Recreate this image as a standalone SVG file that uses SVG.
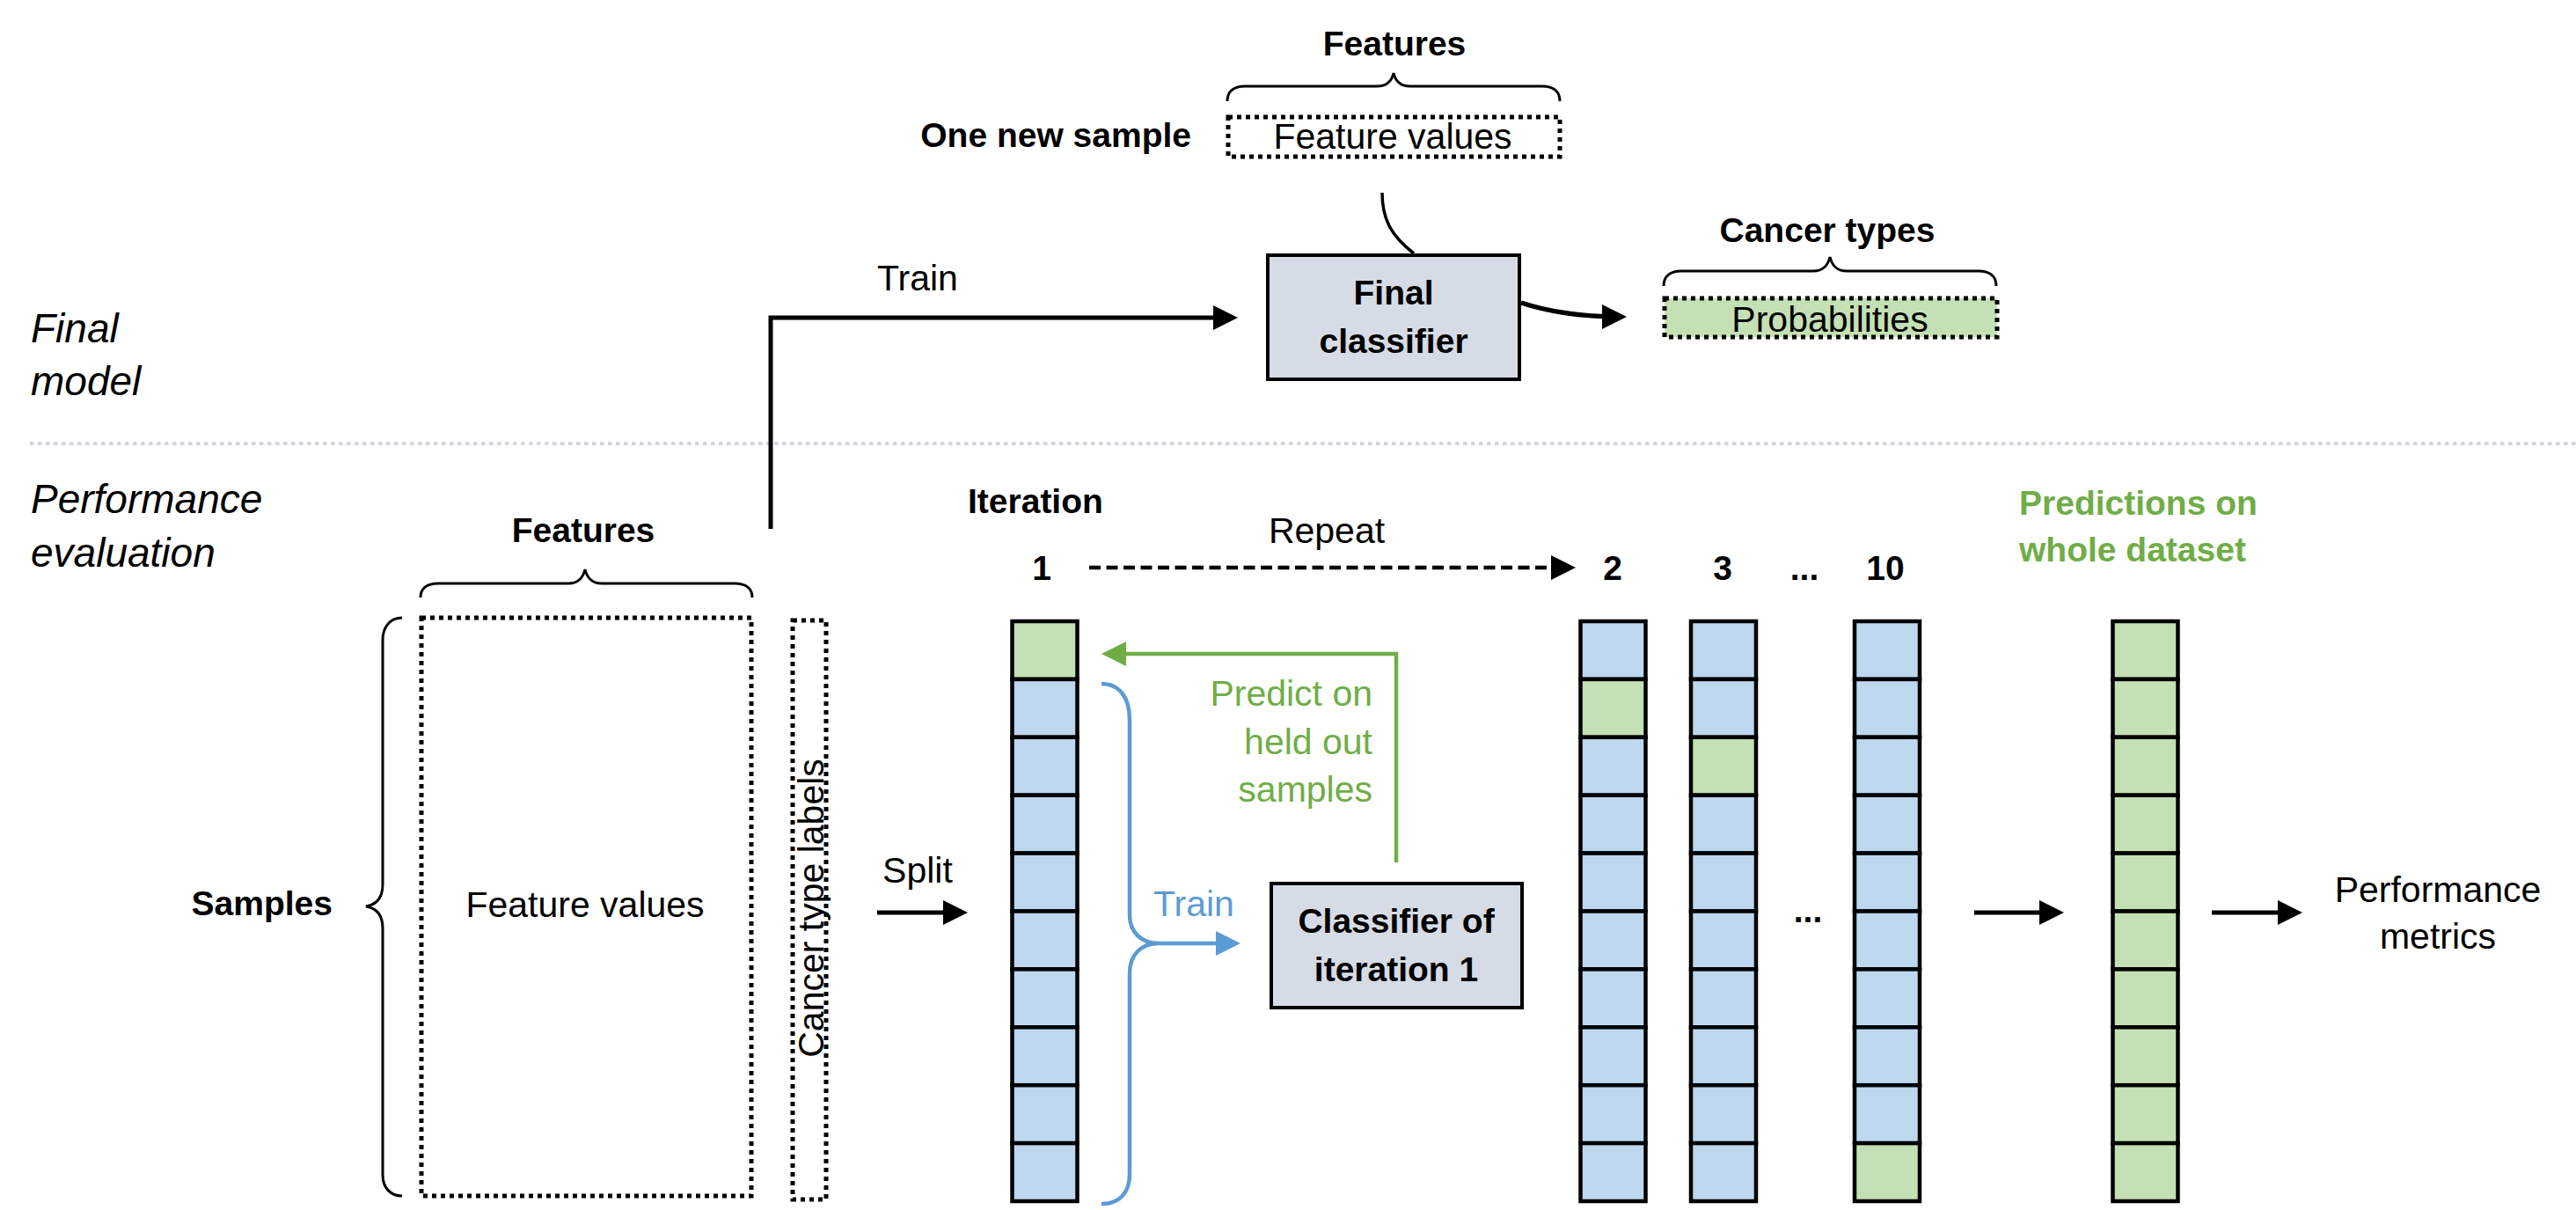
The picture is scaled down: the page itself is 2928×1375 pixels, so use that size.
<svg xmlns="http://www.w3.org/2000/svg" width="2928" height="1375" viewBox="0 0 2928 1375">
<style>
text{font-family:"Liberation Sans",Arial,sans-serif;fill:#000}
.b{font-weight:bold;font-size:39px}
.r{font-size:41px}
.i{font-style:italic;font-size:46px}
.g{fill:#70AD47}
.bl{fill:#5B9BD5}
.m{text-anchor:middle}
.e{text-anchor:end}
.dot{fill:none;stroke:#000;stroke-width:5;stroke-dasharray:5 5}
.dotg{fill:#C5E0B4;stroke:#000;stroke-width:5;stroke-dasharray:5 5}
.brace{fill:none;stroke:#000;stroke-width:3}
.cb{fill:#BDD7EE;stroke:#000;stroke-width:4.5}
.cg{fill:#C5E0B4;stroke:#000;stroke-width:4.5}
.box{fill:#D6DCE5;stroke:#000;stroke-width:4}
.ln{fill:none;stroke:#000;stroke-width:5}
</style>
<defs>
<marker id="ah" markerUnits="userSpaceOnUse" markerWidth="28" markerHeight="28" refX="22" refY="14" orient="auto"><path d="M0,0 L28,14 L0,28 z" fill="#000"/></marker>
<marker id="ahg" markerUnits="userSpaceOnUse" markerWidth="28" markerHeight="28" refX="22" refY="14" orient="auto"><path d="M0,0 L28,14 L0,28 z" fill="#70AD47"/></marker>
<marker id="ahb" markerUnits="userSpaceOnUse" markerWidth="28" markerHeight="28" refX="22" refY="14" orient="auto"><path d="M0,0 L28,14 L0,28 z" fill="#5B9BD5"/></marker>
</defs>

<g id="section-labels">
<text class="i" x="35" y="389">Final</text>
<text class="i" x="35" y="449">model</text>
<text class="i" x="35" y="583">Performance</text>
<text class="i" x="35" y="644">evaluation</text>
<line x1="34" y1="504" x2="2928" y2="504" stroke="#D3D6DD" stroke-width="4" stroke-dasharray="4.5 4.5"/>
</g>

<g id="new-sample">
<text class="b m" x="1585" y="63">Features</text>
<path class="brace" d="M1395,115 C1395,104 1402,98 1415,98 H1565 C1576,98 1582,92 1584,83 C1586,92 1592,98 1603,98 H1753 C1766,98 1773,104 1773,115"/>
<text class="b e" x="1354" y="167">One new sample</text>
<rect class="dot" x="1396" y="133" width="377" height="45"/>
<text class="r m" x="1583" y="169">Feature values</text>
</g>

<g id="final-classifier">
<rect class="box" x="1441" y="290" width="286" height="141"/>
<text class="b m" x="1584" y="346">Final</text>
<text class="b m" x="1584" y="401">classifier</text>
</g>

<g id="probabilities">
<text class="b m" x="2077" y="275">Cancer types</text>
<path class="brace" d="M1891,325 C1891,314 1898,308 1911,308 H2061 C2072,308 2078,301 2080,292 C2082,301 2088,308 2099,308 H2249 C2262,308 2269,314 2269,325"/>
<rect class="dotg" x="1892" y="339" width="378" height="44"/>
<text class="r m" x="2080" y="377">Probabilities</text>
</g>

<g id="dataset">
<text class="b m" x="663" y="616">Features</text>
<path class="brace" d="M478,679 C478,669 485,663 498,663 H646 C657,663 663,656 665,647 C667,656 673,663 684,663 H835 C848,663 855,669 855,679"/>
<text class="b e" x="378" y="1040">Samples</text>
<path class="brace" d="M457,702 C444,702 435,712 435,727 V1005 C435,1020 428,1028 416,1030 C428,1032 435,1040 435,1055 V1335 C435,1350 444,1359 457,1359"/>
<rect class="dot" x="479" y="702" width="375" height="657"/>
<text class="r m" x="665" y="1042">Feature values</text>
<rect class="dot" x="901" y="705" width="38" height="658"/>
<text class="r m" transform="translate(936,1032) rotate(-90)">Cancer type labels</text>
</g>

<g id="iteration-labels">
<text class="b" x="1100" y="583">Iteration</text>
<text class="b m" x="1184" y="659">1</text>
<text class="r m" x="1508" y="617">Repeat</text>
<text class="b m" x="1833" y="659">2</text>
<text class="b m" x="1958" y="659">3</text>
<text class="b m" x="2051" y="659">...</text>
<text class="b m" x="2143" y="659">10</text>
<text class="b g" x="2295" y="585">Predictions on</text>
<text class="b g" x="2295" y="638">whole dataset</text>
<text class="r m" x="1043" y="1003">Split</text>
<text class="b m" x="2055" y="1048">...</text>
</g>

<g id="column-1">
<rect class="cg" x="1150.5" y="706" width="74" height="65.9"/>
<rect class="cb" x="1150.5" y="771.9" width="74" height="65.9"/>
<rect class="cb" x="1150.5" y="837.8" width="74" height="65.9"/>
<rect class="cb" x="1150.5" y="903.7" width="74" height="65.9"/>
<rect class="cb" x="1150.5" y="969.6" width="74" height="65.9"/>
<rect class="cb" x="1150.5" y="1035.5" width="74" height="65.9"/>
<rect class="cb" x="1150.5" y="1101.4" width="74" height="65.9"/>
<rect class="cb" x="1150.5" y="1167.3" width="74" height="65.9"/>
<rect class="cb" x="1150.5" y="1233.2" width="74" height="65.9"/>
<rect class="cb" x="1150.5" y="1299.1" width="74" height="65.9"/>
</g>

<g id="column-2">
<rect class="cb" x="1796.5" y="706" width="74" height="65.9"/>
<rect class="cg" x="1796.5" y="771.9" width="74" height="65.9"/>
<rect class="cb" x="1796.5" y="837.8" width="74" height="65.9"/>
<rect class="cb" x="1796.5" y="903.7" width="74" height="65.9"/>
<rect class="cb" x="1796.5" y="969.6" width="74" height="65.9"/>
<rect class="cb" x="1796.5" y="1035.5" width="74" height="65.9"/>
<rect class="cb" x="1796.5" y="1101.4" width="74" height="65.9"/>
<rect class="cb" x="1796.5" y="1167.3" width="74" height="65.9"/>
<rect class="cb" x="1796.5" y="1233.2" width="74" height="65.9"/>
<rect class="cb" x="1796.5" y="1299.1" width="74" height="65.9"/>
</g>

<g id="column-3">
<rect class="cb" x="1922" y="706" width="74" height="65.9"/>
<rect class="cb" x="1922" y="771.9" width="74" height="65.9"/>
<rect class="cg" x="1922" y="837.8" width="74" height="65.9"/>
<rect class="cb" x="1922" y="903.7" width="74" height="65.9"/>
<rect class="cb" x="1922" y="969.6" width="74" height="65.9"/>
<rect class="cb" x="1922" y="1035.5" width="74" height="65.9"/>
<rect class="cb" x="1922" y="1101.4" width="74" height="65.9"/>
<rect class="cb" x="1922" y="1167.3" width="74" height="65.9"/>
<rect class="cb" x="1922" y="1233.2" width="74" height="65.9"/>
<rect class="cb" x="1922" y="1299.1" width="74" height="65.9"/>
</g>

<g id="column-10">
<rect class="cb" x="2108" y="706" width="74" height="65.9"/>
<rect class="cb" x="2108" y="771.9" width="74" height="65.9"/>
<rect class="cb" x="2108" y="837.8" width="74" height="65.9"/>
<rect class="cb" x="2108" y="903.7" width="74" height="65.9"/>
<rect class="cb" x="2108" y="969.6" width="74" height="65.9"/>
<rect class="cb" x="2108" y="1035.5" width="74" height="65.9"/>
<rect class="cb" x="2108" y="1101.4" width="74" height="65.9"/>
<rect class="cb" x="2108" y="1167.3" width="74" height="65.9"/>
<rect class="cb" x="2108" y="1233.2" width="74" height="65.9"/>
<rect class="cg" x="2108" y="1299.1" width="74" height="65.9"/>
</g>

<g id="column-predictions">
<rect class="cg" x="2401.5" y="706" width="74" height="65.9"/>
<rect class="cg" x="2401.5" y="771.9" width="74" height="65.9"/>
<rect class="cg" x="2401.5" y="837.8" width="74" height="65.9"/>
<rect class="cg" x="2401.5" y="903.7" width="74" height="65.9"/>
<rect class="cg" x="2401.5" y="969.6" width="74" height="65.9"/>
<rect class="cg" x="2401.5" y="1035.5" width="74" height="65.9"/>
<rect class="cg" x="2401.5" y="1101.4" width="74" height="65.9"/>
<rect class="cg" x="2401.5" y="1167.3" width="74" height="65.9"/>
<rect class="cg" x="2401.5" y="1233.2" width="74" height="65.9"/>
<rect class="cg" x="2401.5" y="1299.1" width="74" height="65.9"/>
</g>

<g id="classifier-iteration-1">
<rect class="box" x="1445" y="1004" width="285" height="141"/>
<text class="b m" x="1587" y="1060">Classifier of</text>
<text class="b m" x="1587" y="1115">iteration 1</text>
</g>

<g id="performance-metrics">
<text class="r m" x="2771" y="1025">Performance</text>
<text class="r m" x="2771" y="1078">metrics</text>
</g>

<g id="connectors">
<path class="ln" d="M876,601 V361 H1401" marker-end="url(#ah)"/>
<text class="r" x="997" y="330">Train</text>
<path fill="none" stroke="#000" stroke-width="3.5" d="M1571,219 C1571,252 1584,270 1607,288"/>
<path fill="none" stroke="#000" stroke-width="5.5" d="M1729,344 C1765,356 1800,360 1843,360" marker-end="url(#ah)"/>
<path fill="none" stroke="#000" stroke-width="4.5" stroke-dasharray="13 6.5" d="M1238,645 H1785" marker-end="url(#ah)"/>
<path class="ln" d="M997,1037 H1094" marker-end="url(#ah)"/>
<path fill="none" stroke="#70AD47" stroke-width="4.5" d="M1587,980 V743 H1258" marker-end="url(#ahg)"/>
<text class="r g e" x="1560" y="802">Predict on</text>
<text class="r g e" x="1560" y="857">held out</text>
<text class="r g e" x="1560" y="911">samples</text>
<path fill="none" stroke="#5B9BD5" stroke-width="4.5" d="M1252,777 C1272,777 1284,792 1284,818 V1040 C1284,1060 1298,1072 1317,1072 C1298,1072 1284,1084 1284,1106 V1334 C1284,1356 1272,1368 1252,1368"/>
<path fill="none" stroke="#5B9BD5" stroke-width="4.5" d="M1317,1072 H1404" marker-end="url(#ahb)"/>
<text class="r bl" x="1311" y="1041">Train</text>
<path class="ln" d="M2244,1037 H2340" marker-end="url(#ah)"/>
<path class="ln" d="M2514,1037 H2611" marker-end="url(#ah)"/>
</g>
</svg>
